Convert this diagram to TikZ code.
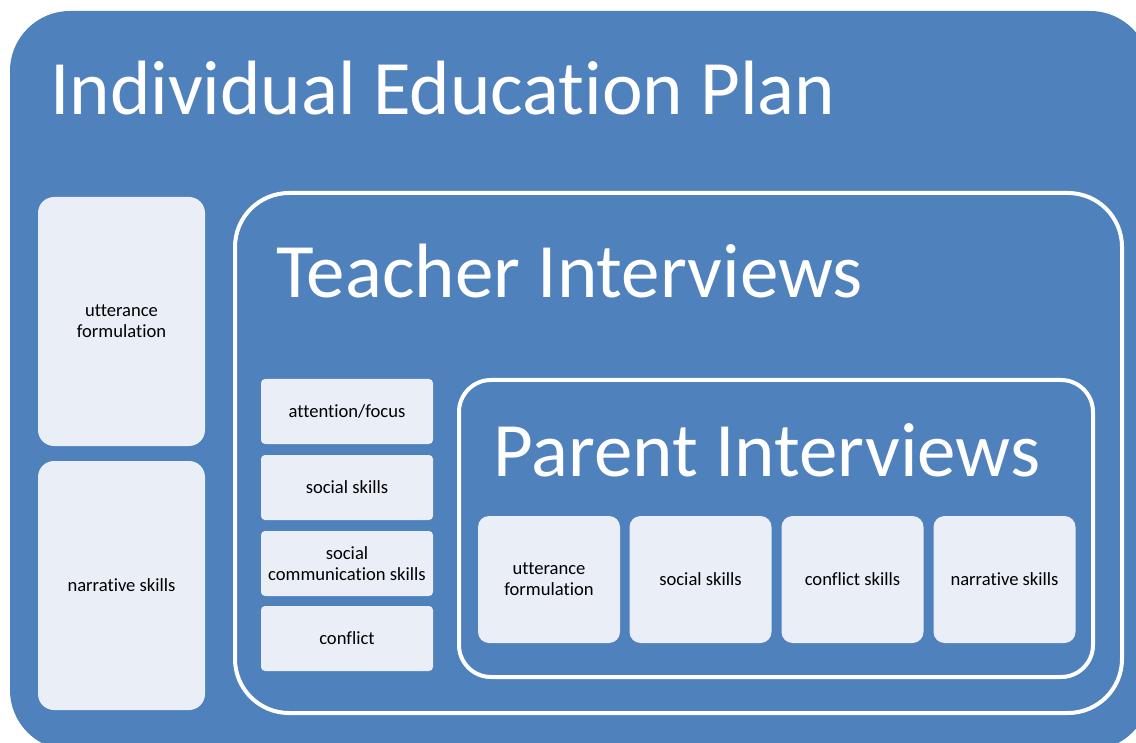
\documentclass[tikz,border=0pt]{standalone}
\usepackage{fontspec}
\setmainfont[Ligatures=NoCommon]{Carlito}
\usepackage{tikz}

\definecolor{planblue}{RGB}{79,129,189}
\definecolor{boxfill}{RGB}{233,238,247}

\tikzset{
  planbox/.style={rectangle, fill=planblue, rounded corners=60pt, inner sep=0pt},
  frame/.style={rectangle, draw=white, line width=4pt, inner sep=0pt},
  leaf/.style={rectangle, fill=boxfill, inner sep=2pt, align=center,
               font=\fontsize{18.6}{21}\selectfont, text=black},
  heading/.style={anchor=base west, text=white, inner sep=0pt,
                  font=\fontsize{77}{77}\selectfont}
}

\begin{document}
\begin{tikzpicture}[x=1pt, y=-1pt]

                      \useasboundingbox (0,0) rectangle (1136,743);
                      \clip (0,0) rectangle (1136,743);

                      % the three nested plans
                      \node[planbox, minimum width=1140pt, minimum height=739pt] (iep) at (580,380.5) {};
                      \node[frame, rounded corners=54pt, minimum width=887pt, minimum height=520pt] (teacher) at (678.5,453) {};
                      \node[frame, rounded corners=32pt, minimum width=634pt, minimum height=297pt] (parent) at (776,528.5) {};

                      \node[heading] (iep title) at (50,115) {Individual Education Plan};
                      \node[heading] (teacher title) at (276,298) {Teacher Interviews};
                      \node[heading] (parent title) at (493,476) {Parent Interviews};

                      % plan goals on the left
                      \node[leaf, rounded corners=16pt, minimum width=167pt, minimum height=249pt] (goal1) at (121.5,321.5) {utterance\\formulation};
                      \node[leaf, rounded corners=16pt, minimum width=167pt, minimum height=249pt] (goal2) at (121.5,585.5) {narrative skills};

                      % teacher topics
                      \foreach \n/\y/\t in {t1/411.5/attention\slash focus, t2/487.5/social skills,
                                             t3/563.5/{social\\communication skills}, t4/638.5/conflict} {
                              \node[leaf, rounded corners=4pt, minimum width=172pt, minimum height=65pt] (\n) at (347,\y) {\t};
                          }

                      % parent topics
                      \foreach \n/\x/\t in {p1/549/{utterance\\formulation}, p2/700.5/social skills,
                                             p3/852.5/conflict skills, p4/1004.5/narrative skills} {
                              \node[leaf, rounded corners=11pt, minimum width=142pt, minimum height=127pt] (\n) at (\x,579.5) {\t};
                          }
                  \end{tikzpicture}
\end{document}
